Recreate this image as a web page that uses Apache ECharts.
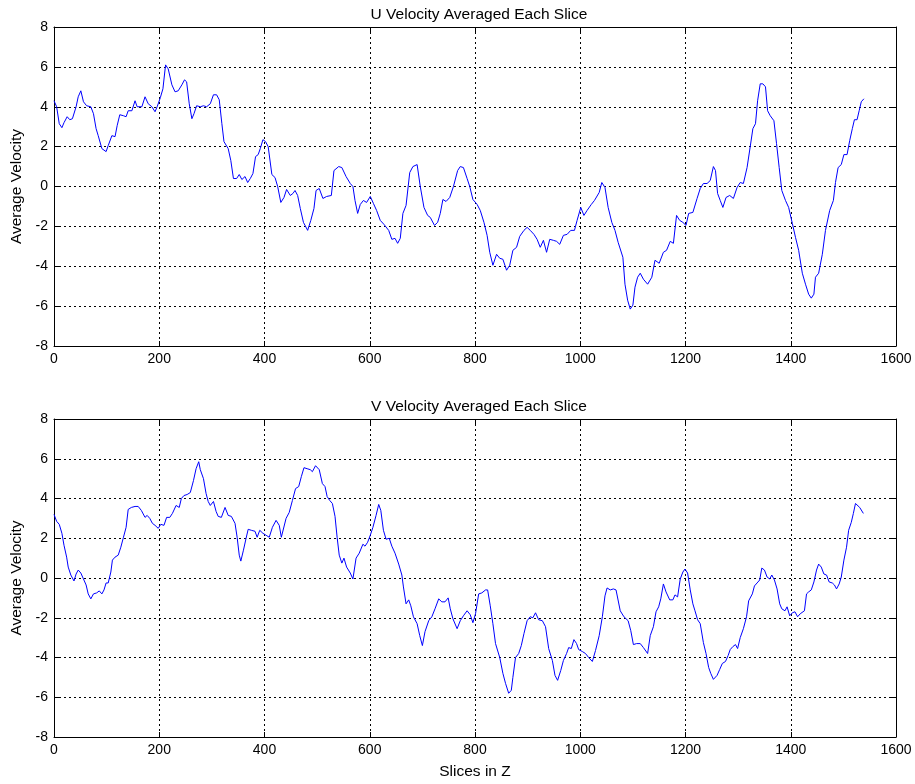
<!DOCTYPE html>
<html>
<head>
<meta charset="utf-8">
<script src="https://cdn.jsdelivr.net/npm/echarts@6/dist/echarts.min.js"></script>
<style>html,body{margin:0;padding:0;background:#fff}#c{width:915px;height:784px}</style>
</head>
<body>
<div id="c"></div>
<script>
// U velocity (top plot): slice index and averaged value
const uX = [0,5,10,15,19,25,30,35,42,46,51,56,62,70,75,80,84,91,99,103,110,116,120,125,132,137,141,148,154,158,167,173,179,186,192,196,202,207,212,217,224,230,236,243,248,252,257,262,266,271,278,284,290,297,303,309,314,319,323,331,336,341,347,352,357,363,368,373,378,383,388,392,397,402,407,414,420,425,431,437,442,449,454,458,463,468,474,482,488,494,498,504,511,518,527,532,541,547,555,563,568,572,577,582,588,594,601,607,613,620,627,636,642,648,653,658,663,669,676,682,690,696,703,710,715,723,729,734,739,745,752,759,767,772,778,785,790,796,804,810,817,823,828,834,841,847,853,860,866,872,879,885,893,899,905,912,918,924,930,936,942,949,955,961,968,975,982,989,994,1001,1007,1013,1021,1027,1036,1041,1047,1053,1060,1066,1072,1081,1085,1090,1095,1100,1104,1109,1114,1120,1128,1136,1142,1150,1158,1164,1171,1177,1183,1189,1195,1201,1206,1214,1222,1228,1234,1241,1247,1253,1257,1261,1266,1271,1277,1284,1291,1298,1304,1310,1317,1323,1328,1333,1337,1342,1347,1352,1356,1361,1368,1373,1378,1383,1390,1396,1403,1409,1415,1422,1428,1434,1439,1444,1447,1453,1460,1466,1474,1481,1485,1490,1496,1501,1507,1512,1517,1521,1526,1530,1534,1539];
const uY = [4.3,4.0,3.15,2.95,3.2,3.5,3.35,3.4,4.0,4.5,4.8,4.25,4.05,4.0,3.65,2.9,2.55,1.9,1.75,2.05,2.55,2.5,3.05,3.6,3.55,3.5,3.8,3.8,4.3,4.0,4.0,4.5,4.15,4.0,3.75,4.0,4.45,4.9,6.1,5.9,5.1,4.75,4.8,5.1,5.35,5.25,4.15,3.4,3.65,4.05,4.0,4.05,4.0,4.15,4.6,4.6,4.35,3.15,2.25,1.9,1.3,0.4,0.4,0.6,0.35,0.5,0.2,0.4,0.65,1.5,1.6,1.9,2.35,2.25,2.0,0.6,0.45,0.0,-0.8,-0.55,-0.15,-0.45,-0.35,-0.2,-0.45,-1.1,-1.8,-2.2,-1.7,-1.1,-0.2,-0.1,-0.6,-0.5,-0.45,0.8,1.0,0.95,0.5,0.15,0.0,-0.7,-1.35,-0.9,-0.7,-0.8,-0.5,-0.85,-1.2,-1.7,-1.9,-2.2,-2.65,-2.6,-2.85,-2.6,-1.35,-0.95,0.7,1.0,1.1,0.0,-1.05,-1.45,-1.55,-1.95,-1.8,-1.35,-0.65,-0.75,-0.55,0.0,0.8,1.0,0.95,0.4,0.0,-0.65,-0.9,-1.2,-1.8,-2.45,-3.3,-3.95,-3.4,-3.6,-3.65,-4.2,-3.95,-3.2,-3.05,-2.5,-2.2,-2.05,-2.2,-2.4,-2.65,-3.05,-2.7,-3.3,-2.65,-2.7,-2.75,-2.9,-2.45,-2.4,-2.2,-2.2,-1.7,-1.05,-1.45,-1.2,-0.9,-0.7,-0.3,0.2,-0.05,-1.05,-1.8,-2.2,-2.8,-3.55,-4.9,-5.7,-6.15,-5.95,-5.05,-4.55,-4.35,-4.65,-4.9,-4.55,-3.7,-3.85,-3.3,-3.2,-2.75,-2.85,-1.45,-1.7,-1.8,-1.95,-1.35,-1.3,-0.6,-0.1,0.15,0.15,0.3,1.0,0.8,-0.35,-0.7,-1.05,-0.55,-0.45,-0.6,-0.05,0.2,0.15,0.95,2.0,2.9,3.15,4.3,5.15,5.15,5.0,3.8,3.55,3.3,2.15,0.95,-0.2,-0.7,-1.05,-1.85,-2.55,-3.2,-4.35,-4.9,-5.4,-5.6,-5.4,-4.55,-4.35,-3.4,-2.2,-1.2,-0.7,0.2,0.95,1.1,1.6,1.6,2.3,2.9,3.35,3.35,3.8,4.25,4.4];

// V velocity (bottom plot): slice index and averaged value
const vX = [0,5,10,15,19,24,27,32,35,38,42,46,51,56,61,65,70,75,81,86,91,95,99,103,108,111,116,122,127,132,137,141,147,154,160,166,173,177,182,187,192,198,203,209,214,220,225,232,238,242,247,253,259,265,270,275,278,284,289,293,297,303,308,312,318,325,331,337,344,348,352,355,360,365,369,375,382,386,391,397,403,409,415,422,428,432,435,441,447,453,459,465,470,475,481,487,491,497,504,510,515,519,524,529,534,538,542,547,551,556,563,568,574,580,587,591,596,601,606,612,617,621,626,631,637,642,648,655,661,664,669,674,678,683,690,695,700,705,712,718,724,731,737,743,749,753,758,766,772,778,785,791,796,801,807,813,820,824,829,834,839,847,853,858,864,869,872,877,883,888,893,899,905,910,915,921,928,934,940,947,952,957,963,968,974,978,983,988,993,997,1004,1010,1016,1023,1029,1036,1042,1047,1051,1057,1063,1068,1076,1083,1091,1096,1101,1107,1114,1120,1128,1133,1139,1144,1149,1153,1158,1163,1170,1176,1180,1185,1190,1195,1199,1204,1209,1214,1218,1223,1228,1234,1239,1244,1248,1253,1260,1265,1270,1276,1281,1285,1290,1295,1299,1304,1310,1316,1320,1327,1331,1336,1341,1345,1350,1355,1360,1364,1369,1374,1379,1383,1389,1393,1398,1403,1408,1413,1418,1426,1430,1434,1439,1444,1449,1453,1458,1463,1468,1473,1479,1483,1487,1492,1496,1501,1506,1510,1515,1519,1523,1526,1531,1538];
const vY = [3.2,2.85,2.7,2.25,1.65,1.05,0.55,0.15,0.2,-0.15,0.2,0.4,0.25,-0.05,-0.35,-0.8,-1.05,-0.8,-0.75,-0.65,-0.8,-0.6,-0.25,-0.25,0.3,0.9,1.05,1.15,1.55,2.05,2.55,3.45,3.55,3.6,3.6,3.4,3.05,3.15,3.0,2.75,2.65,2.5,2.7,2.65,3.05,3.05,3.25,3.65,3.55,4.0,4.15,4.2,4.3,4.9,5.5,5.85,5.45,5.0,4.25,3.85,3.65,3.85,3.35,3.1,3.05,3.55,3.15,3.1,2.75,2.05,1.15,0.85,1.4,2.0,2.45,2.4,2.35,2.05,2.4,2.25,2.15,2.05,2.55,2.9,2.65,2.05,2.0,3.0,3.3,3.9,4.5,4.6,5.1,5.55,5.5,5.45,5.35,5.65,5.45,4.75,4.6,4.1,3.9,3.75,3.1,2.05,1.15,0.75,1.0,0.55,0.25,-0.05,1.0,1.25,1.7,1.6,1.8,2.15,2.55,3.15,3.7,3.4,2.4,1.95,2.0,1.6,1.25,0.7,0.15,-0.45,-1.3,-1.1,-1.4,-1.95,-2.3,-2.9,-3.4,-2.7,-2.15,-1.95,-1.55,-1.05,-1.2,-1.2,-1.0,-1.55,-2.05,-2.55,-2.15,-1.9,-1.65,-1.85,-2.25,-1.8,-0.8,-0.75,-0.6,-0.6,-1.4,-2.3,-3.3,-4.0,-4.8,-5.3,-5.8,-5.65,-5.0,-4.0,-3.8,-3.4,-2.8,-2.15,-1.95,-2.0,-1.75,-2.1,-2.15,-2.45,-3.55,-4.15,-4.9,-5.15,-4.65,-4.15,-3.8,-3.5,-3.55,-3.1,-3.3,-3.6,-3.7,-3.8,-4.0,-4.2,-3.65,-2.9,-1.95,-0.9,-0.5,-0.6,-0.55,-0.6,-1.65,-1.95,-2.15,-2.65,-3.35,-3.3,-3.3,-3.5,-3.8,-2.9,-2.45,-1.7,-1.45,-1.05,-0.3,-0.7,-1.1,-1.1,-0.85,-0.95,-0.05,0.3,0.45,0.25,-0.6,-1.3,-1.65,-2.1,-2.3,-3.25,-3.8,-4.5,-4.8,-5.1,-4.9,-4.6,-4.3,-4.2,-3.9,-3.6,-3.45,-3.35,-3.55,-3.0,-2.55,-1.95,-1.15,-0.8,-0.4,-0.25,-0.1,0.5,0.4,0.05,-0.05,0.15,-0.1,-0.55,-1.3,-1.55,-1.65,-1.45,-1.9,-1.75,-1.7,-1.95,-1.8,-1.65,-0.8,-0.7,-0.6,-0.2,0.4,0.7,0.55,0.2,0.15,-0.2,-0.25,-0.35,-0.55,-0.3,0.05,0.9,1.55,2.4,2.8,3.25,3.75,3.8,3.55,3.25];

// Axis settings
const xMin = 0, xMax = 1600, xStep = 200;
const yMin = -8, yMax = 8, yStep = 2;
const titles = ['U Velocity Averaged Each Slice', 'V Velocity Averaged Each Slice'];
const yName = 'Average Velocity';
const xName = 'Slices in Z';

const FONT = 'Liberation Sans, Arial, sans-serif';
const TICK_FS = 14, NAME_FS = 15.5;
const zip = (xs, ys) => xs.map((x, i) => [x, ys[i]]);

const grids = [
  { left: 54, top: 27, width: 842, height: 319 },
  { left: 54, top: 419, width: 842, height: 318 }
];

const plainNum = v => String(v);

function mainX(gi, withName) {
  return {
    type: 'value', gridIndex: gi, min: xMin, max: xMax, interval: xStep, position: 'bottom',
    axisLine: { show: true, onZero: false, lineStyle: { color: '#000', width: 1 } },
    axisTick: { show: true, inside: true, length: 5, lineStyle: { color: '#000' } },
    axisLabel: { color: '#000', fontFamily: FONT, fontSize: TICK_FS, margin: 6, formatter: plainNum },
    splitLine: { show: true, lineStyle: { color: '#000', type: [2, 3], width: 1 } },
    name: withName ? xName : '', nameLocation: 'middle', nameGap: 27,
    nameTextStyle: { color: '#000', fontFamily: FONT, fontSize: NAME_FS }
  };
}
function topX(gi) {
  return {
    type: 'value', gridIndex: gi, min: xMin, max: xMax, interval: xStep, position: 'top',
    axisLine: { show: true, onZero: false, lineStyle: { color: '#000', width: 1 } },
    axisTick: { show: true, inside: true, length: 5, lineStyle: { color: '#000' } },
    axisLabel: { show: false }, splitLine: { show: false }
  };
}
function mainY(gi) {
  return {
    type: 'value', gridIndex: gi, min: yMin, max: yMax, interval: yStep, position: 'left',
    axisLine: { show: true, onZero: false, lineStyle: { color: '#000', width: 1 } },
    axisTick: { show: true, inside: true, length: 5, lineStyle: { color: '#000' } },
    axisLabel: { color: '#000', fontFamily: FONT, fontSize: TICK_FS, margin: 6, formatter: plainNum },
    splitLine: { show: true, lineStyle: { color: '#000', type: [2, 3], width: 1 } },
    name: yName, nameLocation: 'middle', nameGap: 28, nameRotate: 90,
    nameTextStyle: { color: '#000', fontFamily: FONT, fontSize: NAME_FS }
  };
}
function rightY(gi) {
  return {
    type: 'value', gridIndex: gi, min: yMin, max: yMax, interval: yStep, position: 'right',
    axisLine: { show: true, onZero: false, lineStyle: { color: '#000', width: 1 } },
    axisTick: { show: true, inside: true, length: 5, lineStyle: { color: '#000' } },
    axisLabel: { show: false }, splitLine: { show: false }
  };
}

const chart = echarts.init(document.getElementById('c'), null, { renderer: 'canvas' });
chart.setOption({
  backgroundColor: '#fff',
  animation: false,
  title: [
    { text: titles[0], left: 474, top: 2, textAlign: 'center',
      textStyle: { color: '#000', fontFamily: FONT, fontSize: NAME_FS, fontWeight: 'normal' } },
    { text: titles[1], left: 474, top: 394, textAlign: 'center',
      textStyle: { color: '#000', fontFamily: FONT, fontSize: NAME_FS, fontWeight: 'normal' } }
  ],
  grid: grids,
  xAxis: [mainX(0, false), topX(0), mainX(1, true), topX(1)],
  yAxis: [mainY(0), rightY(0), mainY(1), rightY(1)],
  series: [
    { type: 'line', xAxisIndex: 0, yAxisIndex: 0, data: zip(uX, uY), showSymbol: false,
      lineStyle: { color: '#0000ff', width: 1 }, itemStyle: { color: '#0000ff' } },
    { type: 'line', xAxisIndex: 2, yAxisIndex: 2, data: zip(vX, vY), showSymbol: false,
      lineStyle: { color: '#0000ff', width: 1 }, itemStyle: { color: '#0000ff' } }
  ]
});
</script>
</body>
</html>
